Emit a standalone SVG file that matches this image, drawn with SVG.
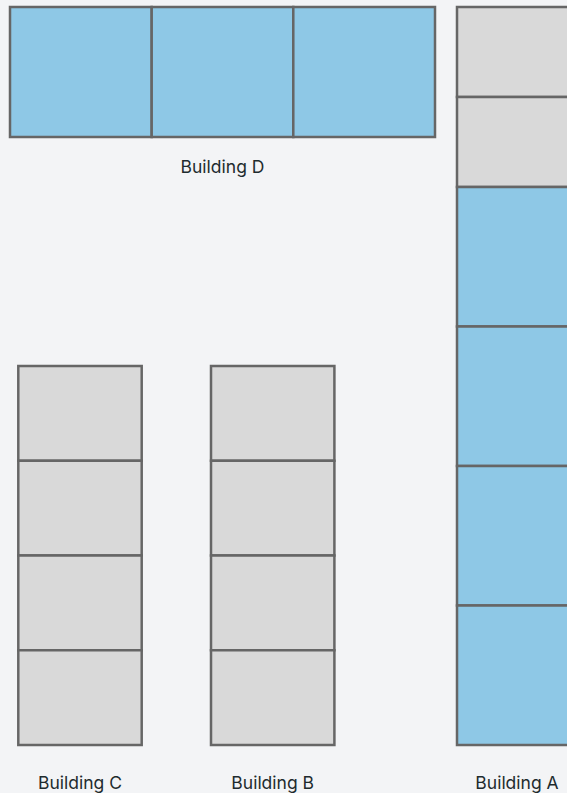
<svg xmlns="http://www.w3.org/2000/svg" width="567" height="793" viewBox="0 0 567 793">
<style>
.bg{fill:#f3f4f6}
.room{stroke:#666666;stroke-width:2.5}
.blue{fill:#8ec8e6}
.grey{fill:#d9d9d9}
.lbl{font-family:Inter,"Liberation Sans",sans-serif;font-size:17.5px;fill:#1e2b2e;text-anchor:middle}
</style>
<rect class="bg" x="0" y="0" width="567" height="793"/>
<g id="building-d">
<rect class="room blue" x="10" y="7" width="141.7" height="130"/>
<rect class="room blue" x="151.7" y="7" width="141.6" height="130"/>
<rect class="room blue" x="293.3" y="7" width="141.7" height="130"/>
<text class="lbl" x="222.5" y="173">Building D</text>
</g>
<g id="building-a">
<rect class="room grey" x="457" y="7" width="121" height="90"/>
<rect class="room grey" x="457" y="97" width="121" height="90"/>
<rect class="room blue" x="457" y="187" width="121" height="139.5"/>
<rect class="room blue" x="457" y="326.5" width="121" height="139.5"/>
<rect class="room blue" x="457" y="466" width="121" height="139.5"/>
<rect class="room blue" x="457" y="605.5" width="121" height="139.5"/>
<text class="lbl" x="517" y="789">Building A</text>
</g>
<g id="building-c">
<rect class="room grey" x="18.3" y="366" width="123.4" height="94.75"/>
<rect class="room grey" x="18.3" y="460.75" width="123.4" height="94.75"/>
<rect class="room grey" x="18.3" y="555.5" width="123.4" height="94.75"/>
<rect class="room grey" x="18.3" y="650.25" width="123.4" height="94.75"/>
<text class="lbl" x="80" y="789">Building C</text>
</g>
<g id="building-b">
<rect class="room grey" x="211" y="366" width="123.4" height="94.75"/>
<rect class="room grey" x="211" y="460.75" width="123.4" height="94.75"/>
<rect class="room grey" x="211" y="555.5" width="123.4" height="94.75"/>
<rect class="room grey" x="211" y="650.25" width="123.4" height="94.75"/>
<text class="lbl" x="272.7" y="789">Building B</text>
</g>
<g id="connectors"/>
</svg>
